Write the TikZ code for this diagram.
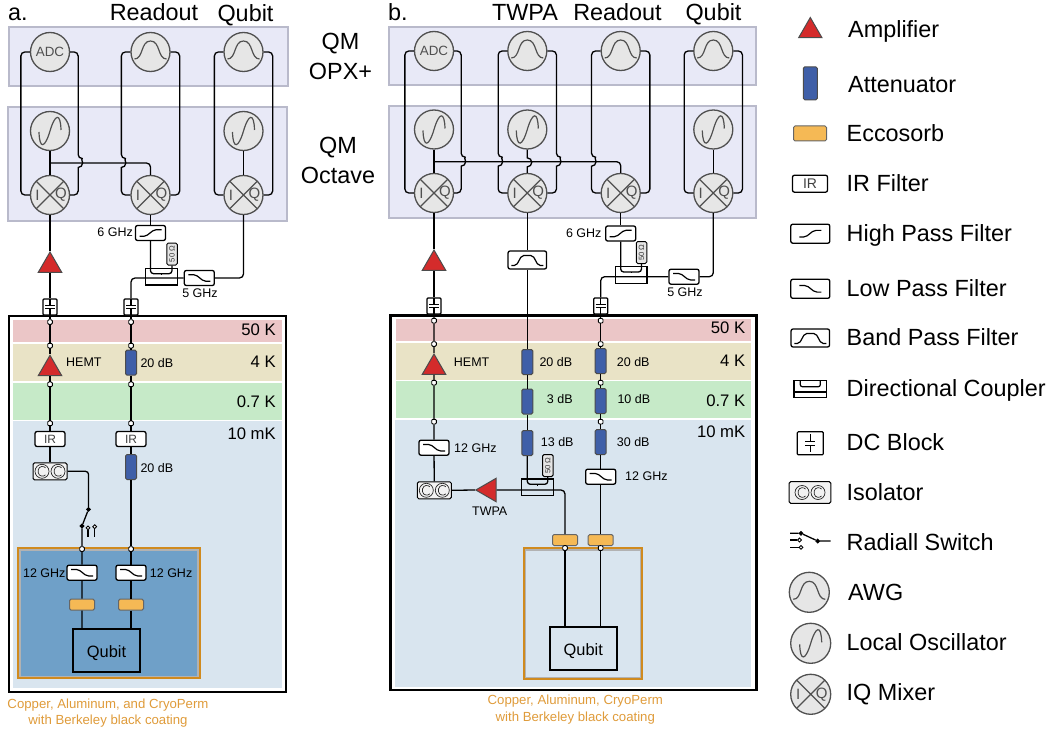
\documentclass[tikz,border=0pt]{standalone}
\usepackage{fontspec}
\usepackage{graphicx}
\setmainfont{Liberation Sans}
\usetikzlibrary{shapes.geometric}

\definecolor{PanelFill}{HTML}{E8E9F7}
\definecolor{PanelEdge}{HTML}{B9BACB}
\definecolor{GlyphFill}{HTML}{E6E6E6}
\definecolor{GlyphEdge}{HTML}{505050}
\definecolor{StageFifty}{HTML}{EBC6C7}
\definecolor{StageFour}{HTML}{E9E3C6}
\definecolor{StageSeven}{HTML}{C6EAC8}
\definecolor{StageTen}{HTML}{D9E5EF}
\definecolor{ShieldFill}{HTML}{6FA0C8}
\definecolor{ShieldEdge}{HTML}{D08A1E}
\definecolor{CaptionText}{HTML}{DF9B3A}
\definecolor{AmpRed}{HTML}{D42B2B}
\definecolor{AttBlue}{HTML}{3F5FA8}
\definecolor{EccoOrange}{HTML}{F5B955}

\begin{document}
\begin{tikzpicture}[x=1pt,y=-1pt]

      \tikzstyle{LargeText} = [font=\fontsize{23.4}{30}\selectfont, inner sep=0pt, align=center]
      \tikzstyle{TitleText} = [LargeText, anchor=base]
      \tikzstyle{StageText} = [font=\fontsize{16.7}{20}\selectfont, inner sep=0pt, anchor=east]
      \tikzstyle{SmallText} = [font=\fontsize{12.5}{15}\selectfont, inner sep=0pt]
      \tikzstyle{CaptionBlock} = [font=\fontsize{13.2}{16.5}\selectfont, text=CaptionText, inner sep=0pt, align=center]
      \tikzstyle{LegendText} = [LargeText, anchor=base west]
      \tikzstyle{PanelBlock} = [rectangle, draw=PanelEdge, line width=2pt, fill=PanelFill, anchor=north west, inner sep=0pt]
      \tikzstyle{StageBlock} = [rectangle, anchor=north west, inner sep=0pt]
      \tikzstyle{FridgeBlock} = [rectangle, draw=black, line width=2.4pt, anchor=north west, inner sep=0pt]
      \tikzstyle{QubitBlock} = [rectangle, draw=black, line width=1.6pt, inner sep=0pt, text height=14pt, text depth=0pt, font=\fontsize{16.4}{18}\selectfont]
      \tikzstyle{Wire} = [draw=black, line width=1.3pt]
      \tikzstyle{Port} = [rectangle, rounded corners=1pt, draw=black, line width=0.9pt, fill=white, minimum size=4.6pt, inner sep=0pt]
      \tikzstyle{SwitchDot} = [circle, draw=black, line width=0.9pt, fill=white, minimum size=3.8pt, inner sep=0pt]
      \tikzstyle{PoleDot} = [SwitchDot, fill=black]

      \tikzstyle{RoundGlyph} = [circle, draw=GlyphEdge, line width=1.3pt, fill=GlyphFill, minimum size=39pt, inner sep=0pt]
      \tikzstyle{AdcGlyph} = [RoundGlyph, text=GlyphEdge, font=\fontsize{13.4}{15}\selectfont]
      \tikzstyle{AwgGlyph} = [RoundGlyph, path picture={
        \draw[GlyphEdge, line width=1.2pt, shift={(path picture bounding box.center)}]
        (-16,7) .. controls (-7,7) and (-10,-11) .. (0,-11) .. controls (10,-11) and (7,7) .. (16,7);
      }]
      \tikzstyle{OscGlyph} = [RoundGlyph, path picture={
        \draw[GlyphEdge, line width=1.2pt, shift={(path picture bounding box.center)}]
        (-11,1) .. controls (-10.5,19) and (-5,17) .. (0,0) .. controls (5,-17) and (10.5,-19) .. (11,-1);
      }]
      \tikzstyle{MixGlyph} = [RoundGlyph, path picture={
        \draw[GlyphEdge, line width=1.2pt, shift={(path picture bounding box.center)}]
        (-15,-15) -- (15,15) (-15,15) -- (15,-15);
        \node[text=GlyphEdge, font=\fontsize{15}{15}\selectfont, inner sep=0pt] at ([xshift=-12.5pt]path picture bounding box.center) {I};
        \node[text=GlyphEdge, font=\fontsize{15}{15}\selectfont, inner sep=0pt] at ([xshift=11pt]path picture bounding box.center) {Q};
      }]

      \tikzstyle{AmpBlock} = [regular polygon, regular polygon sides=3, draw=black!70, line width=1pt, fill=AmpRed, minimum size=27pt, inner sep=0pt]
      \tikzstyle{AttBlock} = [rectangle, rounded corners=1.5pt, draw=black!70, line width=1pt, fill=AttBlue, minimum width=11pt, minimum height=25pt, inner sep=0pt]
      \tikzstyle{EccoBlock} = [rectangle, rounded corners=1.5pt, draw=black!60, line width=1pt, fill=EccoOrange, minimum width=25pt, minimum height=11pt, inner sep=0pt]
      \tikzstyle{FilterBlock} = [rectangle, rounded corners=2pt, draw=black, line width=1.3pt, fill=white, minimum width=30pt, minimum height=15pt, inner sep=0pt]
      \tikzstyle{IrBlock} = [FilterBlock, text=black!75, font=\fontsize{12}{14}\selectfont]
      \tikzstyle{HighPass}[1] = [FilterBlock, path picture={
        \draw[line width=1.2pt, shift={(path picture bounding box.center)}, scale=#1]
        (-11,3.3) -- (-4.7,3.3) -- (3.7,-3.3) -- (11,-3.3);
      }]
      \tikzstyle{LowPass}[1] = [FilterBlock, path picture={
        \draw[line width=1.2pt, shift={(path picture bounding box.center)}, scale=#1]
        (-11,-3.3) -- (-3.7,-3.3) -- (4.7,3.3) -- (11,3.3);
      }]
      \tikzstyle{BandPass} = [FilterBlock, minimum width=38.5pt, minimum height=18pt, path picture={
        \draw[line width=1.2pt, shift={(path picture bounding box.center)}]
        (-16,5.5) -- (-11,5.5) -- (-5.5,-4.5) -- (5.5,-4.5) -- (11,5.5) -- (16,5.5);
      }]
      \tikzstyle{CouplerBlock} = [rectangle, draw=black, line width=1.2pt, minimum width=31.6pt, minimum height=16.7pt, inner sep=0pt]
      \tikzstyle{LoadBlock} = [rectangle, rounded corners=1.5pt, draw=black, line width=1pt, fill=white!90!black, minimum width=10.5pt, minimum height=22pt, inner sep=0pt, text=black!80, font=\fontsize{7.6}{8}\selectfont]
      \tikzstyle{DcBlock}[1] = [rectangle, rounded corners=1pt, draw=black, line width=1.2pt, fill=white, minimum width=14pt, minimum height=16pt, inner sep=0pt, path picture={
        \draw[line width=1.2pt, shift={(path picture bounding box.center)}, scale=#1]
        (-5,-1.8) -- (5,-1.8) (-5,1.8) -- (5,1.8) (0,-1.8) -- (0,-9) (0,1.8) -- (0,9);
      }]
      \tikzstyle{IsoBlock}[1] = [rectangle, rounded corners=1.5pt, draw=black, line width=1pt, fill=white!95!black, minimum width=34pt, minimum height=17pt, inner sep=0pt, path picture={
        \draw[black!85, line width=0.7pt, shift={(path picture bounding box.center)}, scale=#1]
        (-8,0) circle[radius=7pt] (8,0) circle[radius=7pt]
        (-4.5,-3.5) .. controls (-6,-5.5) and (-11,-5.5) .. (-12,0) .. controls (-11,5.5) and (-6,5.5) .. (-4.5,3.5)
        (11.5,-3.5) .. controls (10,-5.5) and (5,-5.5) .. (4,0) .. controls (5,5.5) and (10,5.5) .. (11.5,3.5);
      }]
      \newcommand{\HopArc}{arc[start angle=90, end angle=-90, radius=4.5pt]}

      % titles
      \node (TitleA) [TitleText, anchor=base west] at (8,21) {a.};
      \node (TitleReadA) [TitleText] at (154,21) {Readout};
      \node (TitleQubitA) [TitleText] at (245.5,21.5) {Qubit};
      \node (TitleB) [TitleText, anchor=base west] at (388,21) {b.};
      \node (TitleTwpaB) [TitleText] at (525,21) {TWPA};
      \node (TitleReadB) [TitleText] at (617.5,21) {Readout};
      \node (TitleQubitB) [TitleText] at (713.5,21) {Qubit};
      \node (TitleOpx) [LargeText] at (340.5,56) {QM\\OPX+};
      \node (TitleOctave) [LargeText] at (338,160) {QM\\Octave};

      % boxes behind the parts
      \node (OpxA) [PanelBlock, minimum width=279pt, minimum height=59pt] at (8,26) {};
      \node (OctaveA) [PanelBlock, minimum width=279pt, minimum height=113.6pt] at (7,106) {};
      \node (OpxB) [PanelBlock, minimum width=367pt, minimum height=58pt] at (388.3,26) {};
      \node (OctaveB) [PanelBlock, minimum width=367pt, minimum height=112pt] at (388.3,105.3) {};

      \node (FiftyA) [StageBlock, fill=StageFifty, minimum width=269pt, minimum height=22pt] at (13,320) {};
      \node (FourA) [StageBlock, fill=StageFour, minimum width=269pt, minimum height=37pt] at (13,344) {};
      \node (SevenA) [StageBlock, fill=StageSeven, minimum width=269pt, minimum height=37pt] at (13,382.5) {};
      \node (TenA) [StageBlock, fill=StageTen, minimum width=269pt, minimum height=267pt] at (13,421) {};
      \node (FridgeA) [FridgeBlock, minimum width=277pt, minimum height=375.6pt] at (8,315) {};
      \node (ShieldA) [StageBlock, draw=ShieldEdge, line width=2pt, fill=black!30, minimum width=182pt, minimum height=130pt] at (16.7,547.3) {};
      \node (ShieldInA) [StageBlock, fill=ShieldFill, minimum width=176pt, minimum height=124.5pt] at (20.7,551) {};

      \node (FiftyB) [StageBlock, fill=StageFifty, minimum width=355pt, minimum height=22pt] at (396,319) {};
      \node (FourB) [StageBlock, fill=StageFour, minimum width=355pt, minimum height=37pt] at (396,342.3) {};
      \node (SevenB) [StageBlock, fill=StageSeven, minimum width=355pt, minimum height=37pt] at (396,381) {};
      \node (TenB) [StageBlock, fill=StageTen, minimum width=356pt, minimum height=267pt] at (395,419.7) {};
      \node (FridgeB) [FridgeBlock, minimum width=366pt, minimum height=374.3pt] at (389.3,314.3) {};
      \node (ShieldB) [StageBlock, draw=ShieldEdge, line width=2pt, minimum width=118.6pt, minimum height=130.7pt] at (522.7,547.3) {};
      \node (ShieldInB) [StageBlock, draw=black!30, line width=1.3pt, minimum width=115.4pt, minimum height=127.4pt] at (524.7,549.3) {};

      \node (LabelFiftyA) [StageText] at (276,330) {50 K};
      \node (LabelFourA) [StageText] at (276,362) {4 K};
      \node (LabelSevenA) [StageText] at (276,402) {0.7 K};
      \node (LabelTenA) [StageText] at (276,434) {10 mK};
      \node (LabelFiftyB) [StageText] at (745.5,328) {50 K};
      \node (LabelFourB) [StageText] at (745.5,361) {4 K};
      \node (LabelSevenB) [StageText] at (745.5,401) {0.7 K};
      \node (LabelTenB) [StageText] at (745.5,432) {10 mK};

      % panel a, room temperature
      \node (AdcA) [AdcGlyph] at (50,52) {ADC};
      \node (AwgA2) [AwgGlyph] at (150.5,52) {};
      \node (AwgA3) [AwgGlyph] at (243.5,52) {};
      \node (OscA1) [OscGlyph] at (50,131) {};
      \node (OscA3) [OscGlyph] at (243.5,131) {};
      \node (MixA1) [MixGlyph] at (50,195) {};
      \node (MixA2) [MixGlyph] at (150.5,195) {};
      \node (MixA3) [MixGlyph] at (243.5,195) {};
      \coordinate (TapA) at (50,163);

      \node (HpfA) [HighPass] at (150.5,233) {};
      \node (HpfTextA) [SmallText, anchor=east] at (133,232.5) {6 GHz};
      \node (LoadA) [LoadBlock] at (172,254) {\rotatebox{90}{50 Ω}};
      \node (CouplerA) [CouplerBlock] at (161.5,276.7) {};
      \coordinate (UbotA) at (161.5,273.7);
      \node (LpfA) [LowPass] at (199.3,278) {};
      \node (LpfTextA) [SmallText] at (200,293.5) {5 GHz};
      \node (AmpA1) [AmpBlock] at (50,265.5) {};
      \node (DcA1) [DcBlock] at (50,307) {};
      \node (DcA2) [DcBlock] at (131,307) {};

      % panel a, fridge
      \node (PortA11) [Port] at (50,322) {};
      \node (PortA12) [Port] at (50,345.7) {};
      \node (HemtA) [AmpBlock] at (50,368.8) {};
      \node (HemtTextA) [SmallText, anchor=west] at (66,362.5) {HEMT};
      \node (PortA13) [Port] at (50,384.3) {};
      \node (PortA14) [Port] at (50,423.3) {};
      \node (IrA1) [IrBlock] at (50,439) {IR};
      \node (IsoA) [IsoBlock] at (50,471.3) {};
      \node (SwTopA) [PoleDot] at (88.5,509.3) {};
      \node (SwComA) [PoleDot] at (82,526) {};
      \node (SwOpenA1) [SwitchDot] at (88,527.8) {};
      \node (SwOpenA2) [SwitchDot] at (94.7,526.7) {};
      \coordinate (SwEndA1) at (88,537);
      \coordinate (SwEndA2) at (94.7,537);
      \node (PortA15) [Port] at (82,549) {};
      \node (PortA16) [LowPass] at (82,572.7) {};
      \node (TextA11) [SmallText, anchor=east] at (65.7,572.7) {12 GHz};
      \node (EccoA1) [EccoBlock] at (82,604.7) {};

      \node (PortA21) [Port] at (131,322) {};
      \node (PortA22) [Port] at (131,345.7) {};
      \node (AttA1) [AttBlock] at (131,362.7) {};
      \node (AttTextA1) [SmallText, anchor=west] at (140.3,363) {20 dB};
      \node (PortA23) [Port] at (131,384.3) {};
      \node (PortA24) [Port] at (131,423.3) {};
      \node (IrA2) [IrBlock] at (131,439) {IR};
      \node (AttA2) [AttBlock] at (131,467) {};
      \node (AttTextA2) [SmallText, anchor=west] at (140.3,468) {20 dB};
      \node (PortA25) [Port] at (131,549) {};
      \node (PortA26) [LowPass] at (131,572.7) {};
      \node (TextA21) [SmallText, anchor=west] at (149.7,572.7) {12 GHz};
      \node (EccoA2) [EccoBlock] at (131,604.7) {};
      \node (QubitA) [QubitBlock, minimum width=66.5pt, minimum height=42.5pt] at (106.5,650.5) {Qubit};
      \node (CaptionA) [CaptionBlock] at (108,713) {Copper, Aluminum, and CryoPerm\\with Berkeley black coating};

      % panel a, wires
      \draw [Wire, rounded corners=4pt] (AdcA.west) -- ++(-9,0) |- (MixA1.west);
      \draw [Wire, rounded corners=4pt] (AdcA.east) -- ++(8,0) -- ++(0,106.5) [sharp corners] \HopArc [rounded corners=4pt] -- ++(0,27.5) -- (MixA1.east);
      \draw [Wire, rounded corners=4pt] (AwgA2.west) -- ++(-9,0) -- ++(0,106.5) [sharp corners] \HopArc [rounded corners=4pt] -- ++(0,27.5) -- (MixA2.west);
      \draw [Wire, rounded corners=4pt] (AwgA2.east) -- ++(9,0) |- (MixA2.east);
      \draw [Wire, rounded corners=4pt] (AwgA3.west) -- ++(-9,0) |- (MixA3.west);
      \draw [Wire, rounded corners=4pt] (AwgA3.east) -- ++(9,0) |- (MixA3.east);
      \draw [Wire] (OscA1) -- (MixA1);
      \draw [Wire] (OscA3) -- (MixA3);
      \draw [Wire, rounded corners=4pt] (TapA) -| (MixA2.north);
      \draw [Wire] (MixA1) -- (AmpA1) -- (DcA1);
      \draw [Wire] (MixA2) -- (HpfA);
      \draw [Wire, rounded corners=3pt] (HpfA.south) |- (UbotA) -| (LoadA.south);
      \draw [Wire] (UbotA) -- ++(0,1.2);
      \draw [Wire, rounded corners=4pt] (DcA2.north) |- (LpfA.west);
      \draw [Wire, rounded corners=4pt] (LpfA.east) -| (MixA3.south);
      \draw [Wire] (DcA1) -- (PortA11) -- (PortA12) -- (HemtA) -- (PortA13) -- (PortA14) -- (IrA1) -- (IsoA);
      \draw [Wire, rounded corners=3pt] (IsoA.east) -| (SwTopA);
      \draw [Wire] (SwTopA) -- (SwComA) -- (PortA15) -- (PortA16) -- (EccoA1) -- (EccoA1 |- QubitA.north);
      \draw [Wire] (SwOpenA1) -- (SwEndA1);
      \draw [Wire] (SwOpenA2) -- (SwEndA2);
      \draw [Wire] (DcA2) -- (PortA21) -- (PortA22) -- (AttA1) -- (PortA23) -- (PortA24) -- (IrA2) -- (AttA2) -- (PortA25) -- (PortA26) -- (EccoA2) -- (EccoA2 |- QubitA.north);

      % panel b, room temperature
      \node (AdcB) [AdcGlyph] at (434,51) {ADC};
      \node (AwgB2) [AwgGlyph] at (527.3,51) {};
      \node (AwgB3) [AwgGlyph] at (620.7,51) {};
      \node (AwgB4) [AwgGlyph] at (713.3,51) {};
      \node (OscB1) [OscGlyph] at (434,129.5) {};
      \node (OscB2) [OscGlyph] at (527.3,129.5) {};
      \node (OscB4) [OscGlyph] at (713.3,129.5) {};
      \node (MixB1) [MixGlyph] at (434,193) {};
      \node (MixB2) [MixGlyph] at (527.3,193) {};
      \node (MixB3) [MixGlyph] at (620.7,193) {};
      \node (MixB4) [MixGlyph] at (713.3,193) {};
      \coordinate (TapB) at (434,161.7);

      \node (BpfB) [BandPass] at (527.3,260) {};
      \node (HpfB) [HighPass] at (620.7,233.5) {};
      \node (HpfTextB) [SmallText, anchor=east] at (601.7,233) {6 GHz};
      \node (LoadB1) [LoadBlock] at (641.5,252.5) {\rotatebox{90}{50 Ω}};
      \node (CouplerB1) [CouplerBlock] at (631.2,275) {};
      \coordinate (UbotB1) at (631.2,272);
      \node (LpfB) [LowPass] at (684,276.7) {};
      \node (LpfTextB) [SmallText] at (685,292) {5 GHz};
      \node (AmpB1) [AmpBlock] at (434,263.5) {};
      \node (DcB1) [DcBlock] at (434,306) {};
      \node (DcB3) [DcBlock] at (600.7,306) {};

      % panel b, fridge
      \node (PortB11) [Port] at (434,320.7) {};
      \node (PortB12) [Port] at (434,344) {};
      \node (HemtB) [AmpBlock] at (434,367.5) {};
      \node (HemtTextB) [SmallText, anchor=west] at (453.7,362.5) {HEMT};
      \node (PortB13) [Port] at (434,382.7) {};
      \node (PortB14) [Port] at (434,421.7) {};
      \node (LpfB1) [LowPass] at (434,447.7) {};
      \node (TextB11) [SmallText, anchor=west] at (454,447.7) {12 GHz};
      \node (IsoB) [IsoBlock] at (434.3,490.3) {};

      \node (AttB21) [AttBlock] at (527.3,362) {};
      \node (AttTextB21) [SmallText, anchor=west] at (539.3,361.7) {20 dB};
      \node (AttB22) [AttBlock] at (527.3,401.5) {};
      \node (AttTextB22) [SmallText, anchor=west] at (546.7,399.5) {3 dB};
      \node (AttB23) [AttBlock] at (527.3,443) {};
      \node (AttTextB23) [SmallText, anchor=west] at (540.7,441.7) {13 dB};
      \node (LoadB2) [LoadBlock] at (547.8,465.5) {\rotatebox{90}{50 Ω}};
      \node (CouplerB2) [CouplerBlock] at (537.5,487.3) {};
      \coordinate (UbotB2) at (537.5,484.3);
      \node (TwpaAmp) [AmpBlock, shape border rotate=90] at (489.3,490) {};
      \node (TwpaText) [SmallText] at (489.7,510.7) {TWPA};
      \node (EccoB1) [EccoBlock] at (565,540) {};
      \node (PortB25) [Port] at (565,548) {};

      \node (PortB31) [Port] at (600.7,320.7) {};
      \node (PortB32) [Port] at (600.7,344) {};
      \node (AttB31) [AttBlock] at (600.7,361) {};
      \node (AttTextB31) [SmallText, anchor=west] at (616.7,361.7) {20 dB};
      \node (PortB33) [Port] at (600.7,382.7) {};
      \node (AttB32) [AttBlock] at (600.7,401) {};
      \node (AttTextB32) [SmallText, anchor=west] at (617.3,399.5) {10 dB};
      \node (PortB34) [Port] at (600.7,421.7) {};
      \node (AttB33) [AttBlock] at (600.7,442) {};
      \node (AttTextB33) [SmallText, anchor=west] at (616.7,441.7) {30 dB};
      \node (LpfB3) [LowPass] at (600.7,476.7) {};
      \node (TextB31) [SmallText, anchor=west] at (625,475.7) {12 GHz};
      \node (EccoB2) [EccoBlock] at (600.7,540) {};
      \node (PortB35) [Port] at (600.7,548) {};
      \node (QubitB) [QubitBlock, minimum width=67pt, minimum height=43pt] at (583.3,648.7) {Qubit};
      \node (CaptionB) [CaptionBlock] at (575.3,709.7) {Copper, Aluminum, CryoPerm\\with Berkeley black coating};

      % panel b, wires
      \draw [Wire, rounded corners=4pt] (AdcB.west) -- ++(-9,0) |- (MixB1.west);
      \draw [Wire, rounded corners=4pt] (AdcB.east) -- ++(7,0) -- ++(0,106.2) [sharp corners] \HopArc [rounded corners=4pt] -- ++(0,26.8) -- (MixB1.east);
      \draw [Wire, rounded corners=4pt] (AwgB2.west) -- ++(-9,0) -- ++(0,106.2) [sharp corners] \HopArc [rounded corners=4pt] -- ++(0,26.8) -- (MixB2.west);
      \draw [Wire, rounded corners=4pt] (AwgB2.east) -- ++(9,0) -- ++(0,106.2) [sharp corners] \HopArc [rounded corners=4pt] -- ++(0,26.8) -- (MixB2.east);
      \draw [Wire, rounded corners=4pt] (AwgB3.west) -- ++(-9,0) -- ++(0,106.2) [sharp corners] \HopArc [rounded corners=4pt] -- ++(0,26.8) -- (MixB3.west);
      \draw [Wire, rounded corners=4pt] (AwgB3.east) -- ++(9,0) |- (MixB3.east);
      \draw [Wire, rounded corners=4pt] (AwgB4.west) -- ++(-9,0) |- (MixB4.west);
      \draw [Wire, rounded corners=4pt] (AwgB4.east) -- ++(9,0) |- (MixB4.east);
      \draw [Wire] (OscB1) -- (MixB1);
      \draw [Wire] (OscB2.south) -- ++(0,8.2) \HopArc -- (MixB2.north);
      \draw [Wire] (OscB4) -- (MixB4);
      \draw [Wire, rounded corners=4pt] (TapB) -| (MixB3.north);
      \draw [Wire] (MixB1) -- (AmpB1) -- (DcB1);
      \draw [Wire] (MixB2) -- (BpfB) -- (AttB21) -- (AttB22) -- (AttB23);
      \draw [Wire] (MixB3) -- (HpfB);
      \draw [Wire, rounded corners=3pt] (HpfB.south) |- (UbotB1) -| (LoadB1.south);
      \draw [Wire] (UbotB1) -- ++(0,1.2);
      \draw [Wire, rounded corners=3pt] (AttB23.south) |- (UbotB2) -| (LoadB2.south);
      \draw [Wire] (UbotB2) -- ++(0,1.2);
      \draw [Wire, rounded corners=4pt] (DcB3.north) |- (LpfB.west);
      \draw [Wire, rounded corners=4pt] (LpfB.east) -| (MixB4.south);
      \draw [Wire] (DcB1) -- (PortB11) -- (PortB12) -- (HemtB) -- (PortB13) -- (PortB14) -- (LpfB1) -- (IsoB) ;
      \draw [Wire] (IsoB.east) -- (TwpaAmp.west);
      \draw [Wire, rounded corners=4pt] (TwpaAmp.east) -| (EccoB1.north);
      \draw [Wire] (EccoB1) -- (PortB25) -- (PortB25 |- QubitB.north);
      \draw [Wire] (DcB3) -- (PortB31) -- (PortB32) -- (AttB31) -- (PortB33) -- (AttB32) -- (PortB34) -- (AttB33) -- (LpfB3) -- (EccoB2) -- (PortB35) -- (PortB35 |- QubitB.north);

      % legend
      \node (LegAmp) [AmpBlock] at (810.3,31) {};
      \node (LegAmpText) [LegendText] at (848,37.5) {Amplifier};
      \node (LegAtt) [AttBlock, minimum width=14pt, minimum height=33pt] at (810.3,83.3) {};
      \node (LegAttText) [LegendText] at (848,92.5) {Attenuator};
      \node (LegEcco) [EccoBlock, minimum width=33pt, minimum height=15pt] at (810,133.5) {};
      \node (LegEccoText) [LegendText] at (846.5,141.5) {Eccosorb};
      \node (LegIr) [IrBlock, minimum width=35pt, minimum height=17pt, font=\fontsize{14}{15}\selectfont] at (810,183.7) {IR};
      \node (LegIrText) [LegendText] at (846.5,191.5) {IR Filter};
      \node (LegHigh) [HighPass=1.45, minimum width=39pt, minimum height=19pt] at (810.3,233.7) {};
      \node (LegHighText) [LegendText] at (846.5,241.5) {High Pass Filter};
      \node (LegLow) [LowPass=1.45, minimum width=39pt, minimum height=19pt] at (810.3,288.8) {};
      \node (LegLowText) [LegendText] at (846.5,296.5) {Low Pass Filter};
      \node (LegBand) [BandPass] at (810.3,338) {};
      \node (LegBandText) [LegendText] at (846.5,345) {Band Pass Filter};
      \node (LegCoupler) [CouplerBlock, minimum width=32.7pt, minimum height=17pt, path picture={
        \draw[line width=1.2pt, rounded corners=2pt, shift={(path picture bounding box.center)}] (-10,-9) -- (-10,-2) -- (10,-2) -- (10,-9);
        \draw[line width=1.2pt, shift={(path picture bounding box.center)}] (-17,3.3) -- (17,3.3);
      }] at (810.3,388.7) {};
      \node (LegCouplerText) [LegendText] at (846.5,396) {Directional Coupler};
      \node (LegDc) [DcBlock=1.5, minimum width=26pt, minimum height=23pt] at (810.3,443.3) {};
      \node (LegDcText) [LegendText] at (846.5,450) {DC Block};
      \node (LegIso) [IsoBlock=1.25, minimum width=41.7pt, minimum height=21.6pt] at (810,492.5) {};
      \node (LegIsoText) [LegendText] at (846.5,500) {Isolator};
      \node (LegPole) [PoleDot] at (801,533.3) {};
      \node (LegCom) [PoleDot] at (817.7,541) {};
      \node (LegOpen1) [SwitchDot] at (799.5,540) {};
      \node (LegOpen2) [SwitchDot] at (801,547.3) {};
      \coordinate (LegEnd) at (830.7,541);
      \coordinate (LegStub0) at (790,533.3);
      \coordinate (LegStub1) at (790,540);
      \coordinate (LegStub2) at (790,547.3);
      \draw [Wire] (LegStub0) -- (LegPole) -- (LegCom) -- (LegEnd);
      \draw [Wire] (LegStub1) -- (LegOpen1);
      \draw [Wire] (LegStub2) -- (LegOpen2);
      \node (LegSwitchText) [LegendText] at (846.5,550) {Radiall Switch};
      \node (LegAwg) [AwgGlyph, minimum size=40pt] at (809.3,592.3) {};
      \node (LegAwgText) [LegendText] at (848,600) {AWG};
      \node (LegOsc) [OscGlyph, minimum size=40pt] at (810.7,643.3) {};
      \node (LegOscText) [LegendText] at (846.5,650) {Local Oscillator};
      \node (LegMix) [MixGlyph, minimum size=40pt] at (810.7,694.3) {};
      \node (LegMixText) [LegendText] at (846.5,700.7) {IQ Mixer};

      \useasboundingbox (0,0) rectangle (1052,730);

    \end{tikzpicture}
\end{document}
